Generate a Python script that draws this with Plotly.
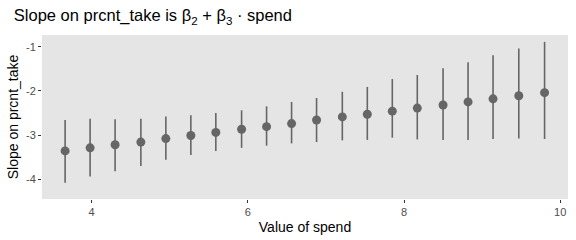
import plotly.graph_objects as go

spend = [3.66, 3.98, 4.30, 4.63, 4.95, 5.27, 5.59, 5.92, 6.24, 6.56,
         6.88, 7.21, 7.53, 7.85, 8.17, 8.50, 8.82, 9.14, 9.47, 9.80]
slope = [-3.36, -3.29, -3.22, -3.16, -3.08, -3.01, -2.94, -2.87, -2.81, -2.74,
         -2.66, -2.59, -2.53, -2.46, -2.39, -2.32, -2.25, -2.18, -2.11, -2.04]
upper = [-2.66, -2.63, -2.64, -2.63, -2.58, -2.55, -2.50, -2.44, -2.35, -2.25,
         -2.16, -2.02, -1.91, -1.73, -1.64, -1.49, -1.35, -1.19, -1.04, -0.89]
lower = [-4.08, -3.94, -3.82, -3.70, -3.56, -3.45, -3.36, -3.29, -3.24, -3.19,
         -3.16, -3.12, -3.11, -3.06, -3.10, -3.11, -3.11, -3.09, -3.08, -3.09]

x_ticks = [4, 6, 8, 10]
y_ticks = [-4, -3, -2, -1]

col = "#666666"
fig = go.Figure()
fig.add_trace(go.Scatter(
    x=spend, y=slope, mode="markers",
    marker=dict(size=9, color=col),
    error_y=dict(type="data", symmetric=False,
                 array=[u - s for u, s in zip(upper, slope)],
                 arrayminus=[s - l for s, l in zip(slope, lower)],
                 color=col, thickness=1.6, width=0),
    showlegend=False,
))

fig.update_layout(
    width=576, height=240,
    margin=dict(l=42, r=8, t=35, b=33),
    paper_bgcolor="white", plot_bgcolor="#e5e5e5",
    font=dict(family="Liberation Sans, Arial, sans-serif", color="black"),
    title=dict(text="Slope on prcnt_take is β<sub>2</sub> + β<sub>3</sub> · spend",
               xref="container", yref="container", x=0.024, y=0.935,
               xanchor="left", yanchor="middle",
               font=dict(size=16.5, color="black")),
    xaxis=dict(range=[3.364, 10.10], tickvals=x_ticks, ticktext=[str(v) for v in x_ticks],
               showgrid=False, zeroline=False, ticks="outside", ticklen=3,
               tickcolor="#333333", tickwidth=1,
               tickfont=dict(size=11, color="#4d4d4d"),
               title=dict(text="Value of spend", font=dict(size=14), standoff=4)),
    yaxis=dict(range=[-4.449, -0.734], tickvals=y_ticks, ticktext=[str(v) for v in y_ticks],
               showgrid=False, zeroline=False, ticks="outside", ticklen=3,
               tickcolor="#333333", tickwidth=1,
               tickfont=dict(size=11, color="#4d4d4d"),
               title=dict(text="Slope on prcnt_take", font=dict(size=14), standoff=4)),
)

fig.write_html("out.html")
